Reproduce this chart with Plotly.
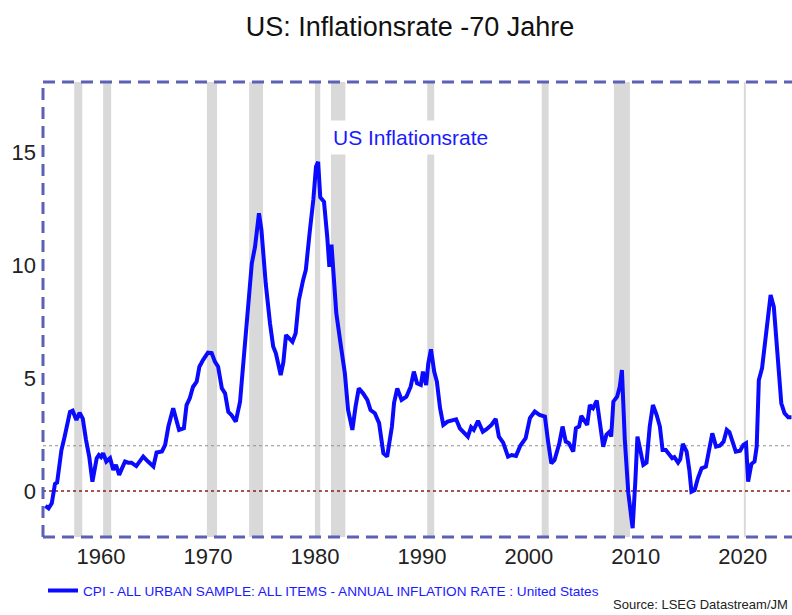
import plotly.graph_objects as go

# --- data ---
years = [1954.8, 1955.1, 1955.4, 1955.7, 1955.9, 1956.3, 1956.6, 1957.1, 1957.35, 1957.7,
         1958.0, 1958.3, 1958.6, 1958.9, 1959.2, 1959.6, 1959.8, 1960.0, 1960.2, 1960.5,
         1960.85, 1961.15, 1961.4, 1961.7, 1961.9, 1962.25, 1962.55, 1962.85, 1963.3, 1963.95,
         1964.4, 1964.9, 1965.2, 1965.7, 1966.0, 1966.3, 1966.75, 1967.1, 1967.3, 1967.75,
         1968.0, 1968.3, 1968.6, 1968.95, 1969.2, 1969.55, 1970.0, 1970.35, 1970.65, 1970.95,
         1971.3, 1971.6, 1971.9, 1972.2, 1972.6, 1973.0, 1973.3, 1973.7, 1974.1, 1974.4,
         1974.77, 1975.0, 1975.4, 1975.8, 1976.1, 1976.35, 1976.8, 1977.05, 1977.3, 1977.6,
         1977.9, 1978.2, 1978.5, 1978.9, 1979.15, 1979.5, 1979.85, 1980.1, 1980.3, 1980.5,
         1980.85, 1981.15, 1981.35, 1981.55, 1981.7, 1982.0, 1982.35, 1982.8, 1983.1, 1983.5,
         1983.8, 1984.1, 1984.5, 1984.9, 1985.2, 1985.6, 1986.0, 1986.4, 1986.75, 1987.2,
         1987.4, 1987.7, 1988.1, 1988.55, 1988.95, 1989.25, 1989.55, 1989.9, 1990.1, 1990.4,
         1990.6, 1990.85, 1991.15, 1991.4, 1991.7, 1992.0, 1992.4, 1992.8, 1993.2, 1993.55,
         1993.9, 1994.3, 1994.6, 1994.85, 1995.25, 1995.7, 1996.05, 1996.5, 1996.9, 1997.2,
         1997.6, 1998.05, 1998.4, 1998.8, 1999.2, 1999.7, 2000.1, 2000.55, 2001.0, 2001.5,
         2001.8, 2002.1, 2002.4, 2002.85, 2003.15, 2003.45, 2003.75, 2004.15, 2004.4, 2004.7,
         2004.9, 2005.15, 2005.45, 2005.7, 2006.0, 2006.35, 2006.55, 2006.95, 2007.25, 2007.55,
         2007.7, 2007.9, 2008.25, 2008.5, 2008.7, 2008.97, 2009.3, 2009.7, 2009.95, 2010.15,
         2010.35, 2010.7, 2011.0, 2011.3, 2011.6, 2011.95, 2012.25, 2012.5, 2012.8, 2013.1,
         2013.4, 2013.6, 2013.95, 2014.15, 2014.4, 2014.75, 2015.0, 2015.2, 2015.5, 2015.8,
         2016.15, 2016.55, 2016.9, 2017.15, 2017.5, 2017.85, 2018.2, 2018.5, 2018.75, 2019.1,
         2019.35, 2019.75, 2020.05, 2020.3, 2020.5, 2020.8, 2021.1, 2021.3, 2021.5, 2021.8,
         2022.2, 2022.6, 2022.9, 2023.3, 2023.6, 2023.9, 2024.25, 2024.55]
inflation = [-0.66, -0.77, -0.55, 0.31, 0.37, 1.8, 2.4, 3.5, 3.55, 3.14,
             3.46, 3.2, 2.26, 1.52, 0.41, 1.45, 1.59, 1.5, 1.67, 1.3,
             1.45, 0.93, 1.15, 0.71, 0.93, 1.3, 1.25, 1.25, 1.1, 1.52,
             1.3, 1.08, 1.7, 1.75, 2.04, 2.85, 3.66, 3.0, 2.7, 2.77,
             3.8, 4.1, 4.6, 4.84, 5.5, 5.8, 6.12, 6.1, 5.72, 5.5,
             4.54, 4.32, 3.5, 3.36, 3.07, 3.95, 5.5, 7.57, 10.07, 10.8,
             12.29, 11.55, 9.19, 7.42, 6.39, 6.09, 5.13, 5.7, 6.9, 6.75,
             6.6, 6.98, 8.45, 9.34, 9.78, 11.4, 12.88, 14.35, 14.57, 13.0,
             12.8, 11.25, 9.92, 10.9, 9.9, 7.86, 6.68, 5.2, 3.58, 2.7,
             3.73, 4.54, 4.32, 4.03, 3.58, 3.44, 3.0, 1.67, 1.52, 2.85,
             3.9, 4.54, 4.03, 4.17, 4.61, 5.28, 4.76, 4.69, 5.28, 4.69,
             5.65, 6.27, 5.28, 4.84, 3.66, 2.92, 3.07, 3.1, 3.17, 2.77,
             2.62, 2.4, 2.82, 2.7, 3.1, 2.62, 2.73, 2.92, 3.19, 2.4,
             2.14, 1.52, 1.59, 1.55, 2.0, 2.33, 3.22, 3.51, 3.36, 3.29,
             2.18, 1.22, 1.37, 2.11, 2.85, 2.18, 2.11, 1.74, 2.77, 2.85,
             3.32, 3.11, 2.92, 3.8, 3.66, 4.0, 3.36, 1.96, 2.48, 2.62,
             2.4, 3.95, 4.17, 4.61, 5.35, 2.26, -0.1, -1.65, 0.4, 2.4,
             1.96, 1.15, 1.25, 2.85, 3.8, 3.36, 2.85, 1.81, 1.81, 1.59,
             1.45, 1.5, 1.25, 1.4, 2.08, 1.74, 0.93, -0.03, 0.04, 0.56,
             1.0, 1.08, 1.96, 2.55, 1.96, 2.0, 2.18, 2.7, 2.6, 2.11,
             1.74, 1.78, 2.04, 2.11, 0.41, 1.19, 1.3, 1.96, 4.91, 5.43,
             7.12, 8.67, 8.15, 5.94, 3.88, 3.44, 3.26, 3.26]

recession_start = [1957.5, 1960.2, 1969.9, 1973.85, 1980.0, 1981.5, 1990.5, 2001.2, 2007.95, 2020.1]
recession_end = [1958.25, 1960.95, 1970.85, 1975.15, 1980.5, 1982.85, 1991.15, 2001.85, 2009.45, 2020.28]

x_ticks = [1960, 1970, 1980, 1990, 2000, 2010, 2020]
y_ticks = [0, 5, 10, 15]
target_rate = 2.0

series_name = "CPI - ALL URBAN SAMPLE: ALL ITEMS - ANNUAL INFLATION RATE : United States"

FONT = "Liberation Sans, Arial, sans-serif"
BORDER = "#5d61b6"

W, H = 792, 615

fig = go.Figure()
fig.add_trace(go.Scatter(x=years, y=inflation, mode="lines", name=series_name,
                         line=dict(color="#0a0aff", width=4)))

shapes = []
for s, e in zip(recession_start, recession_end):
    shapes.append(dict(type="rect", xref="x", yref="paper", x0=s, x1=e, y0=0, y1=1,
                       fillcolor="#d9d9d9", line=dict(width=0), layer="below"))
shapes.append(dict(type="line", xref="paper", yref="y", x0=0, x1=1, y0=target_rate, y1=target_rate,
                   line=dict(color="#8f8f8f", width=1.2, dash="dot"), layer="below"))
shapes.append(dict(type="line", xref="paper", yref="y", x0=0, x1=1, y0=0, y1=0,
                   line=dict(color="#8b1c1c", width=1.5, dash="dot"), layer="below"))
# dashed frame: top, left, bottom
for x0, y0, x1, y1 in [(0, 1, 1, 1), (0, 0, 0, 1), (0, 0, 1, 0)]:
    shapes.append(dict(type="line", xref="paper", yref="paper", x0=x0, y0=y0, x1=x1, y1=y1,
                       line=dict(color=BORDER, width=3, dash="12px,7px")))

fig.update_layout(
    width=W, height=H,
    margin=dict(l=43, r=0, t=82, b=78, autoexpand=False),
    paper_bgcolor="white", plot_bgcolor="white",
    font=dict(family=FONT, color="#222222"),
    title=dict(text="US: Inflationsrate -70 Jahre", x=410 / W, xanchor="center",
               y=1 - 27 / H, yanchor="middle", font=dict(size=27, color="#111111")),
    xaxis=dict(range=[1954.58, 2024.6], tickvals=x_ticks, ticktext=[str(t) for t in x_ticks],
               showgrid=False, zeroline=False, showline=False, ticks="",
               tickfont=dict(size=22, color="#222222"), ticklabelstandoff=4),
    yaxis=dict(range=[-2.04, 18.1], tickvals=y_ticks, showgrid=False, zeroline=False,
               showline=False, ticks="", tickfont=dict(size=22, color="#222222"),
               ticklabelstandoff=6),
    showlegend=True,
    legend=dict(orientation="h", x=0.0, xanchor="left", y=-0.118, yanchor="middle",
                font=dict(size=13.6, color="#1a1aff"), bgcolor="rgba(0,0,0,0)"),
    shapes=shapes,
    annotations=[
        dict(text="US Inflationsrate", xref="paper", yref="paper", x=0.49, y=0.877,
             showarrow=False, font=dict(size=21, color="#1a1aff"), bgcolor="white",
             borderpad=5, xanchor="center", yanchor="middle"),
        dict(text="Source: LSEG Datastream/JM", xref="paper", yref="paper", x=0.997, y=-0.149,
             showarrow=False, font=dict(size=13, color="#222222"), xanchor="right",
             yanchor="middle"),
    ],
)

# remove the browser's default 8px body margin so the 792x615 figure fills the window
fig.write_html("out.html", config={"displayModeBar": False},
               post_script="document.body.style.margin='0';document.body.style.overflow='hidden';")
